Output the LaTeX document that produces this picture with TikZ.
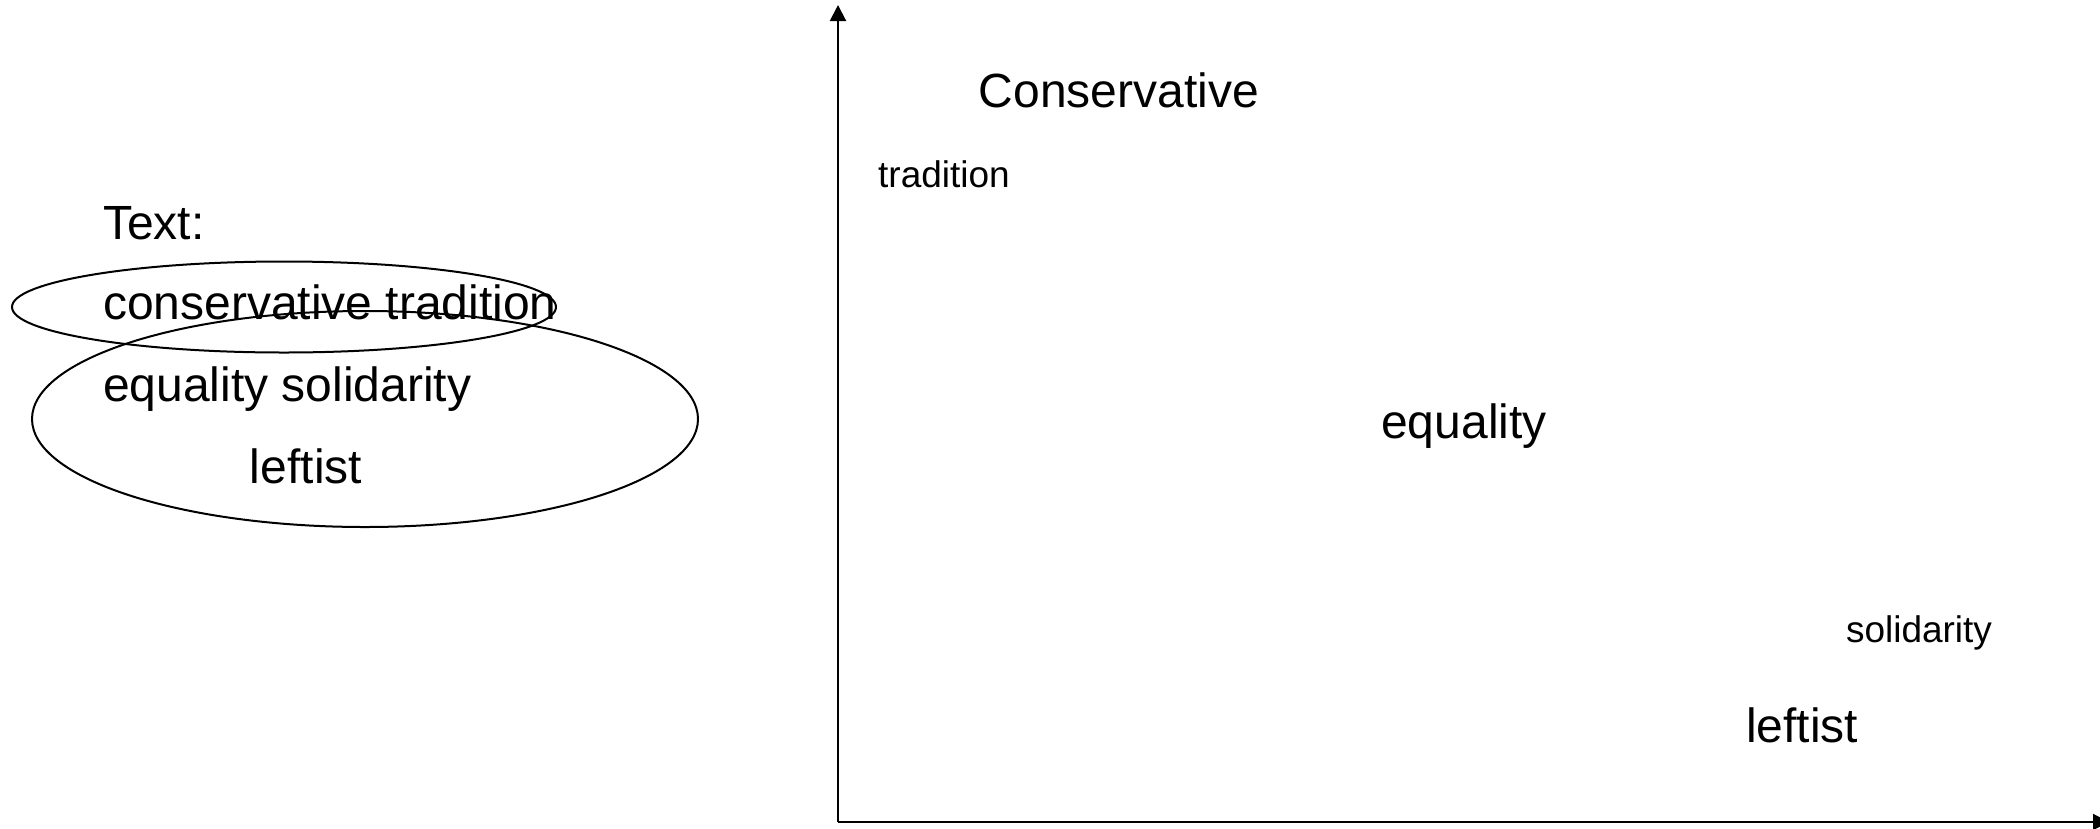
\documentclass[tikz,border=0pt]{standalone}
\usepackage{fontspec}
\setmainfont{Liberation Sans}
\usetikzlibrary{arrows.meta}
\tikzset{
  big/.style={inner sep=0pt, font=\fontsize{48}{56}\selectfont},
  small/.style={inner sep=0pt, font=\fontsize{37}{44}\selectfont},
  axis/.style={line width=2pt, -{Triangle[length=16pt,width=16pt]}},
  loop/.style={line width=2pt}
}
\begin{document}
\begin{tikzpicture}[x=1pt,y=-1pt]
\useasboundingbox (0,0) rectangle (2100,828);
% left text
\node[big, anchor=base west] (t0) at (103,239) {Text:};
\node[big, anchor=base west] (t1) at (103,319) {conservative tradition};
\node[big, anchor=base west] (t2) at (103,401) {equality solidarity};
\node[big, anchor=base] (t3) at (306,483) {leftist};
% ellipses
\draw[loop] (284,307) ellipse [x radius=272, y radius=45.5];
\draw[loop] (365,419) ellipse [x radius=333, y radius=108];
% axes
\coordinate (O) at (838,822);
\coordinate (ytop) at (838,5);
\coordinate (xend) at (2109,822);
\draw[axis] (O) -- (ytop);
\draw[axis] (O) -- (xend);
% right labels
\node[big, anchor=base] (cons) at (1119,107) {Conservative};
\node[small, anchor=base] (trad) at (944,187) {tradition};
\node[big, anchor=base] (eq) at (1464,438) {equality};
\node[small, anchor=base] (sol) at (1919,642) {solidarity};
\node[big, anchor=base] (left) at (1802,742) {leftist};
\end{tikzpicture}
\end{document}
